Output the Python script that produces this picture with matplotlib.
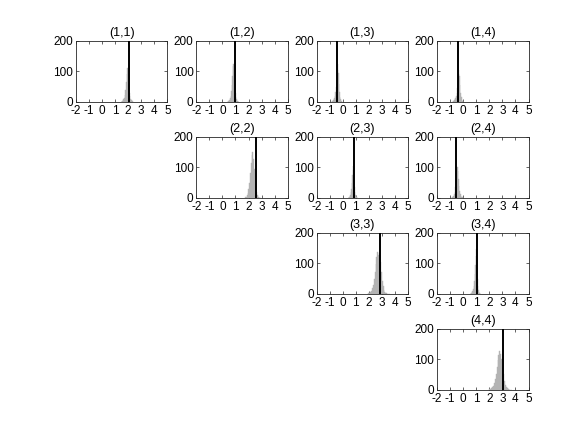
import matplotlib
matplotlib.use("Agg")
import matplotlib.pyplot as plt
import numpy as np

plt.rcParams['font.family'] = ['Liberation Sans', 'DejaVu Sans']
plt.rcParams['axes.unicode_minus'] = False

# panel labels (row, col) in the 4x4 grid
panel_rc = [(1, 1), (1, 2), (1, 3), (1, 4),
            (2, 2), (2, 3), (2, 4),
            (3, 3), (3, 4),
            (4, 4)]
panel_titles = ["(1,1)", "(1,2)", "(1,3)", "(1,4)",
                "(2,2)", "(2,3)", "(2,4)",
                "(3,3)", "(3,4)",
                "(4,4)"]

# true value (black vertical line) for each panel
true_values = [2.05, 0.97, -0.45, -0.37, 2.55, 0.86, -0.57, 2.85, 1.06, 3.03]

# histogram range (first bin left edge, last bin right edge)
bin_lo = [1.45, 0.35, -0.90, -0.85, 1.75, 0.40, -0.95, 1.90, 0.55, 2.00]
bin_hi = [2.40, 1.25, -0.05, 0.00, 2.95, 1.15, 0.00, 3.60, 1.35, 3.75]

# histogram counts
counts_11 = [1, 2, 3, 5, 8, 14, 24, 40, 65, 90, 110, 85, 55, 30, 18, 10, 6, 3, 2, 1]
counts_12 = [1, 1, 2, 4, 7, 12, 20, 34, 55, 85, 118, 125, 90, 55, 30, 15, 8, 4, 2, 1]
counts_13 = [1, 1, 2, 3, 5, 8, 13, 20, 32, 50, 75, 105, 125, 95, 60, 32, 16, 8, 3, 1]
counts_14 = [1, 1, 2, 3, 5, 8, 12, 19, 30, 46, 68, 92, 105, 85, 55, 30, 15, 7, 3, 1]
counts_22 = [2, 4, 8, 15, 28, 50, 80, 115, 140, 150, 128, 95, 60, 35, 18, 9, 4, 2, 1, 1]
counts_23 = [1, 1, 2, 3, 6, 10, 18, 30, 48, 75, 105, 90, 60, 35, 18, 9, 5, 3, 1, 1]
counts_24 = [1, 1, 2, 4, 7, 12, 20, 34, 55, 80, 100, 88, 62, 38, 22, 12, 6, 3, 2, 1]
counts_33 = [1, 2, 3, 6, 10, 18, 30, 48, 72, 98, 120, 135, 128, 132, 105, 70, 42, 24, 13, 7, 4, 2, 1, 1, 1]
counts_34 = [1, 2, 3, 5, 9, 15, 26, 42, 65, 95, 125, 145, 90, 50, 25, 12, 5, 2, 1, 1]
counts_44 = [2, 3, 5, 8, 13, 22, 35, 52, 75, 98, 115, 125, 118, 100, 75, 50, 30, 17, 9, 5, 3, 2, 1, 1, 1]
all_counts = [counts_11, counts_12, counts_13, counts_14, counts_22,
              counts_23, counts_24, counts_33, counts_34, counts_44]

x_ticks = [-2, -1, 0, 1, 2, 3, 4, 5]
y_ticks = [0, 100, 200]

fig = plt.figure(figsize=(5.84, 4.38), dpi=100)

col_left = [0.1300, 0.3361, 0.5422, 0.7484]
row_bottom = [0.7673, 0.5482, 0.3291, 0.1100]
ax_w, ax_h = 0.1566, 0.140

for (r, c), title, tv, lo, hi, cnt in zip(panel_rc, panel_titles, true_values,
                                          bin_lo, bin_hi, all_counts):
    ax = fig.add_axes([col_left[c - 1], row_bottom[r - 1], ax_w, ax_h])
    n = len(cnt)
    edges = np.linspace(lo, hi, n + 1)
    centers = 0.5 * (edges[:-1] + edges[1:])
    bw = edges[1] - edges[0]
    ax.bar(centers, cnt, width=bw, color='#b3b3b3', edgecolor='#b3b3b3',
           linewidth=0.3, zorder=2)
    ax.plot([tv, tv], [0, 200], color='black', lw=1.4, zorder=3)
    ax.set_xlim(-2, 5)
    ax.set_ylim(0, 200)
    ax.set_xticks(x_ticks)
    ax.set_yticks(y_ticks)
    ax.tick_params(direction='in', top=True, right=True, length=2.5,
                   width=0.5, labelsize=8.5, pad=2, colors='#262626',
                   labelcolor='black')
    for s in ax.spines.values():
        s.set_linewidth(0.6)
        s.set_color('#262626')
    ax.set_title(title, fontsize=9, pad=3)

fig.savefig("out.png", dpi=100)
